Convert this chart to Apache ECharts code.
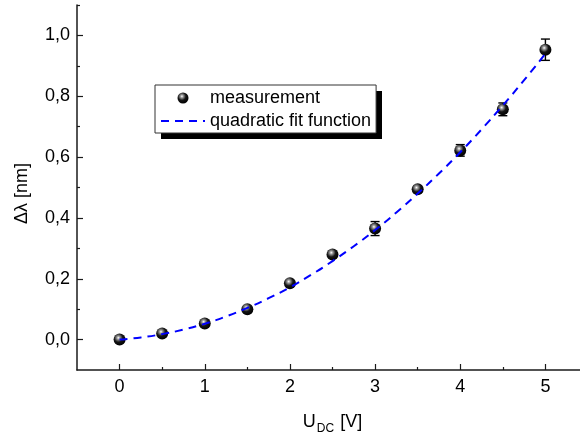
<!DOCTYPE html>
<html><head><meta charset="utf-8">
<script src="https://cdn.jsdelivr.net/npm/echarts@6/dist/echarts.min.js"></script>
<style>html,body{margin:0;padding:0;background:#fff}#c{width:580px;height:439px}</style>
</head><body><div id="c"></div>
<script>
const voltage = [0, 0.5, 1, 1.5, 2, 2.5, 3, 3.5, 4, 4.5, 5];
const shift = [0.000, 0.020, 0.053, 0.100, 0.185, 0.280, 0.365, 0.494, 0.622, 0.757, 0.953];
const shiftErr = [0.004, 0.005, 0.006, 0.007, 0.008, 0.010, 0.023, 0.010, 0.019, 0.021, 0.035];
const fitVoltage = [0, 0.25, 0.5, 0.75, 1, 1.25, 1.5, 1.75, 2, 2.25, 2.5, 2.75, 3, 3.25, 3.5, 3.75, 4, 4.25, 4.5, 4.75, 5];
const fitShift = [0.000, 0.007, 0.018, 0.033, 0.052, 0.076, 0.104, 0.136, 0.172, 0.213, 0.258, 0.307, 0.360, 0.418, 0.480, 0.546, 0.616, 0.691, 0.770, 0.853, 0.940];
const xMajorTicks = [0, 1, 2, 3, 4, 5];
const xMinorTicks = [0.5, 1.5, 2.5, 3.5, 4.5, 5.5];
const yMajorTicks = [0, 0.2, 0.4, 0.6, 0.8, 1.0];
const yMinorTicks = [0.1, 0.3, 0.5, 0.7, 0.9, 1.1];

const FONT = "'Liberation Sans', Arial, Helvetica, sans-serif";
const AX = '#1a1a1a';
const chart = echarts.init(document.getElementById('c'), null, {renderer: 'canvas'});

const sphere = {
  type: 'radial', x: 0.4, y: 0.35, r: 0.65,
  colorStops: [
    {offset: 0, color: '#ffffff'},
    {offset: 0.2, color: '#9a9a9a'},
    {offset: 0.55, color: '#151515'},
    {offset: 1, color: '#000'}
  ]
};

chart.setOption({
  animation: false,
  backgroundColor: '#fff',
  grid: {left: 77, right: -8, top: 5, bottom: 69, containLabel: false, outerBoundsMode: 'none'},
  graphic: [{
    type: 'rect', left: 161, top: 91, z: 1, silent: true,
    shape: {width: 221, height: 48},
    style: {fill: '#000'}
  }],
  legend: {
    left: 155, top: 85, orient: 'vertical', z: 5,
    padding: [4, 5, 3, 5], itemGap: 5, itemWidth: 44, itemHeight: 11,
    backgroundColor: '#fff', borderColor: '#333', borderWidth: 1,
    selectedMode: false,
    textStyle: {fontSize: 18, color: '#000', fontFamily: FONT},
    data: [
      {name: 'measurement'},
      {name: 'quadratic fit function', itemStyle: {opacity: 0, color: 'transparent', borderWidth: 0}}
    ]
  },
  xAxis: [
    {
      type: 'value', min: -0.5, max: 5.5, position: 'bottom',
      axisLine: {show: true, onZero: false, lineStyle: {color: AX, width: 1.5}},
      axisTick: {show: true, inside: true, length: 6, customValues: xMajorTicks, lineStyle: {color: AX, width: 1.2}},
      axisLabel: {customValues: xMajorTicks, margin: 8, fontSize: 18, color: '#000', fontFamily: FONT},
      splitLine: {show: false},
      name: '{n|U}{s|DC}{n| [V]}', nameLocation: 'middle', nameGap: 40,
      nameTextStyle: {fontSize: 18, color: '#000', fontFamily: FONT,
        rich: {
          n: {fontSize: 18, color: '#000', fontFamily: FONT},
          s: {fontSize: 12, color: '#000', fontFamily: FONT, verticalAlign: 'top', padding: [13, 1, 0, 1]}
        }}
    },
    {
      type: 'value', min: -0.5, max: 5.5, position: 'bottom',
      axisLine: {show: false, onZero: false},
      axisTick: {show: true, inside: true, length: 3, customValues: xMinorTicks, lineStyle: {color: AX, width: 1.2}},
      axisLabel: {show: false}, splitLine: {show: false}
    }
  ],
  yAxis: [
    {
      type: 'value', min: -0.1, max: 1.1, position: 'left',
      axisLine: {show: true, onZero: false, lineStyle: {color: AX, width: 1.5}},
      axisTick: {show: true, inside: true, length: 6, customValues: yMajorTicks, lineStyle: {color: AX, width: 1.2}},
      axisLabel: {customValues: yMajorTicks, margin: 7, fontSize: 18, color: '#000', fontFamily: FONT,
        formatter: v => v.toFixed(1).replace('.', ',')},
      splitLine: {show: false},
      name: 'Δλ [nm]', nameLocation: 'middle', nameGap: 46,
      nameTextStyle: {fontSize: 18, color: '#000', fontFamily: FONT, padding: [0, 12, 0, 0]}
    },
    {
      type: 'value', min: -0.1, max: 1.1, position: 'left',
      axisLine: {show: false, onZero: false},
      axisTick: {show: true, inside: true, length: 3, customValues: yMinorTicks, lineStyle: {color: AX, width: 1.2}},
      axisLabel: {show: false}, splitLine: {show: false}
    }
  ],
  series: [
    {
      name: 'errors', type: 'custom', xAxisIndex: 0, yAxisIndex: 0, z: 2,
      data: voltage.map((v, i) => [v, shift[i], shiftErr[i]]),
      renderItem: function (params, api) {
        const x = api.value(0), y = api.value(1), e = api.value(2);
        const t = api.coord([x, y + e]), b = api.coord([x, y - e]);
        const w = 4.5;
        const st = {stroke: '#000', lineWidth: 1.4};
        return {type: 'group', children: [
          {type: 'line', shape: {x1: t[0], y1: t[1], x2: b[0], y2: b[1]}, style: st},
          {type: 'line', shape: {x1: t[0] - w, y1: t[1], x2: t[0] + w, y2: t[1]}, style: st},
          {type: 'line', shape: {x1: b[0] - w, y1: b[1], x2: b[0] + w, y2: b[1]}, style: st}
        ]};
      }
    },
    {
      name: 'measurement', type: 'scatter', xAxisIndex: 0, yAxisIndex: 0, z: 3,
      symbol: 'circle', symbolSize: 12,
      itemStyle: {color: sphere, opacity: 1},
      data: voltage.map((v, i) => [v, shift[i]])
    },
    {
      name: 'quadratic fit function', type: 'line', xAxisIndex: 0, yAxisIndex: 0, z: 4,
      smooth: true, showSymbol: false, symbol: 'none',
      lineStyle: {color: '#0000ff', width: 2, type: [8, 6]},
      itemStyle: {color: '#0000ff'},
      data: fitVoltage.map((v, i) => [v, fitShift[i]])
    }
  ]
});
</script></body></html>
